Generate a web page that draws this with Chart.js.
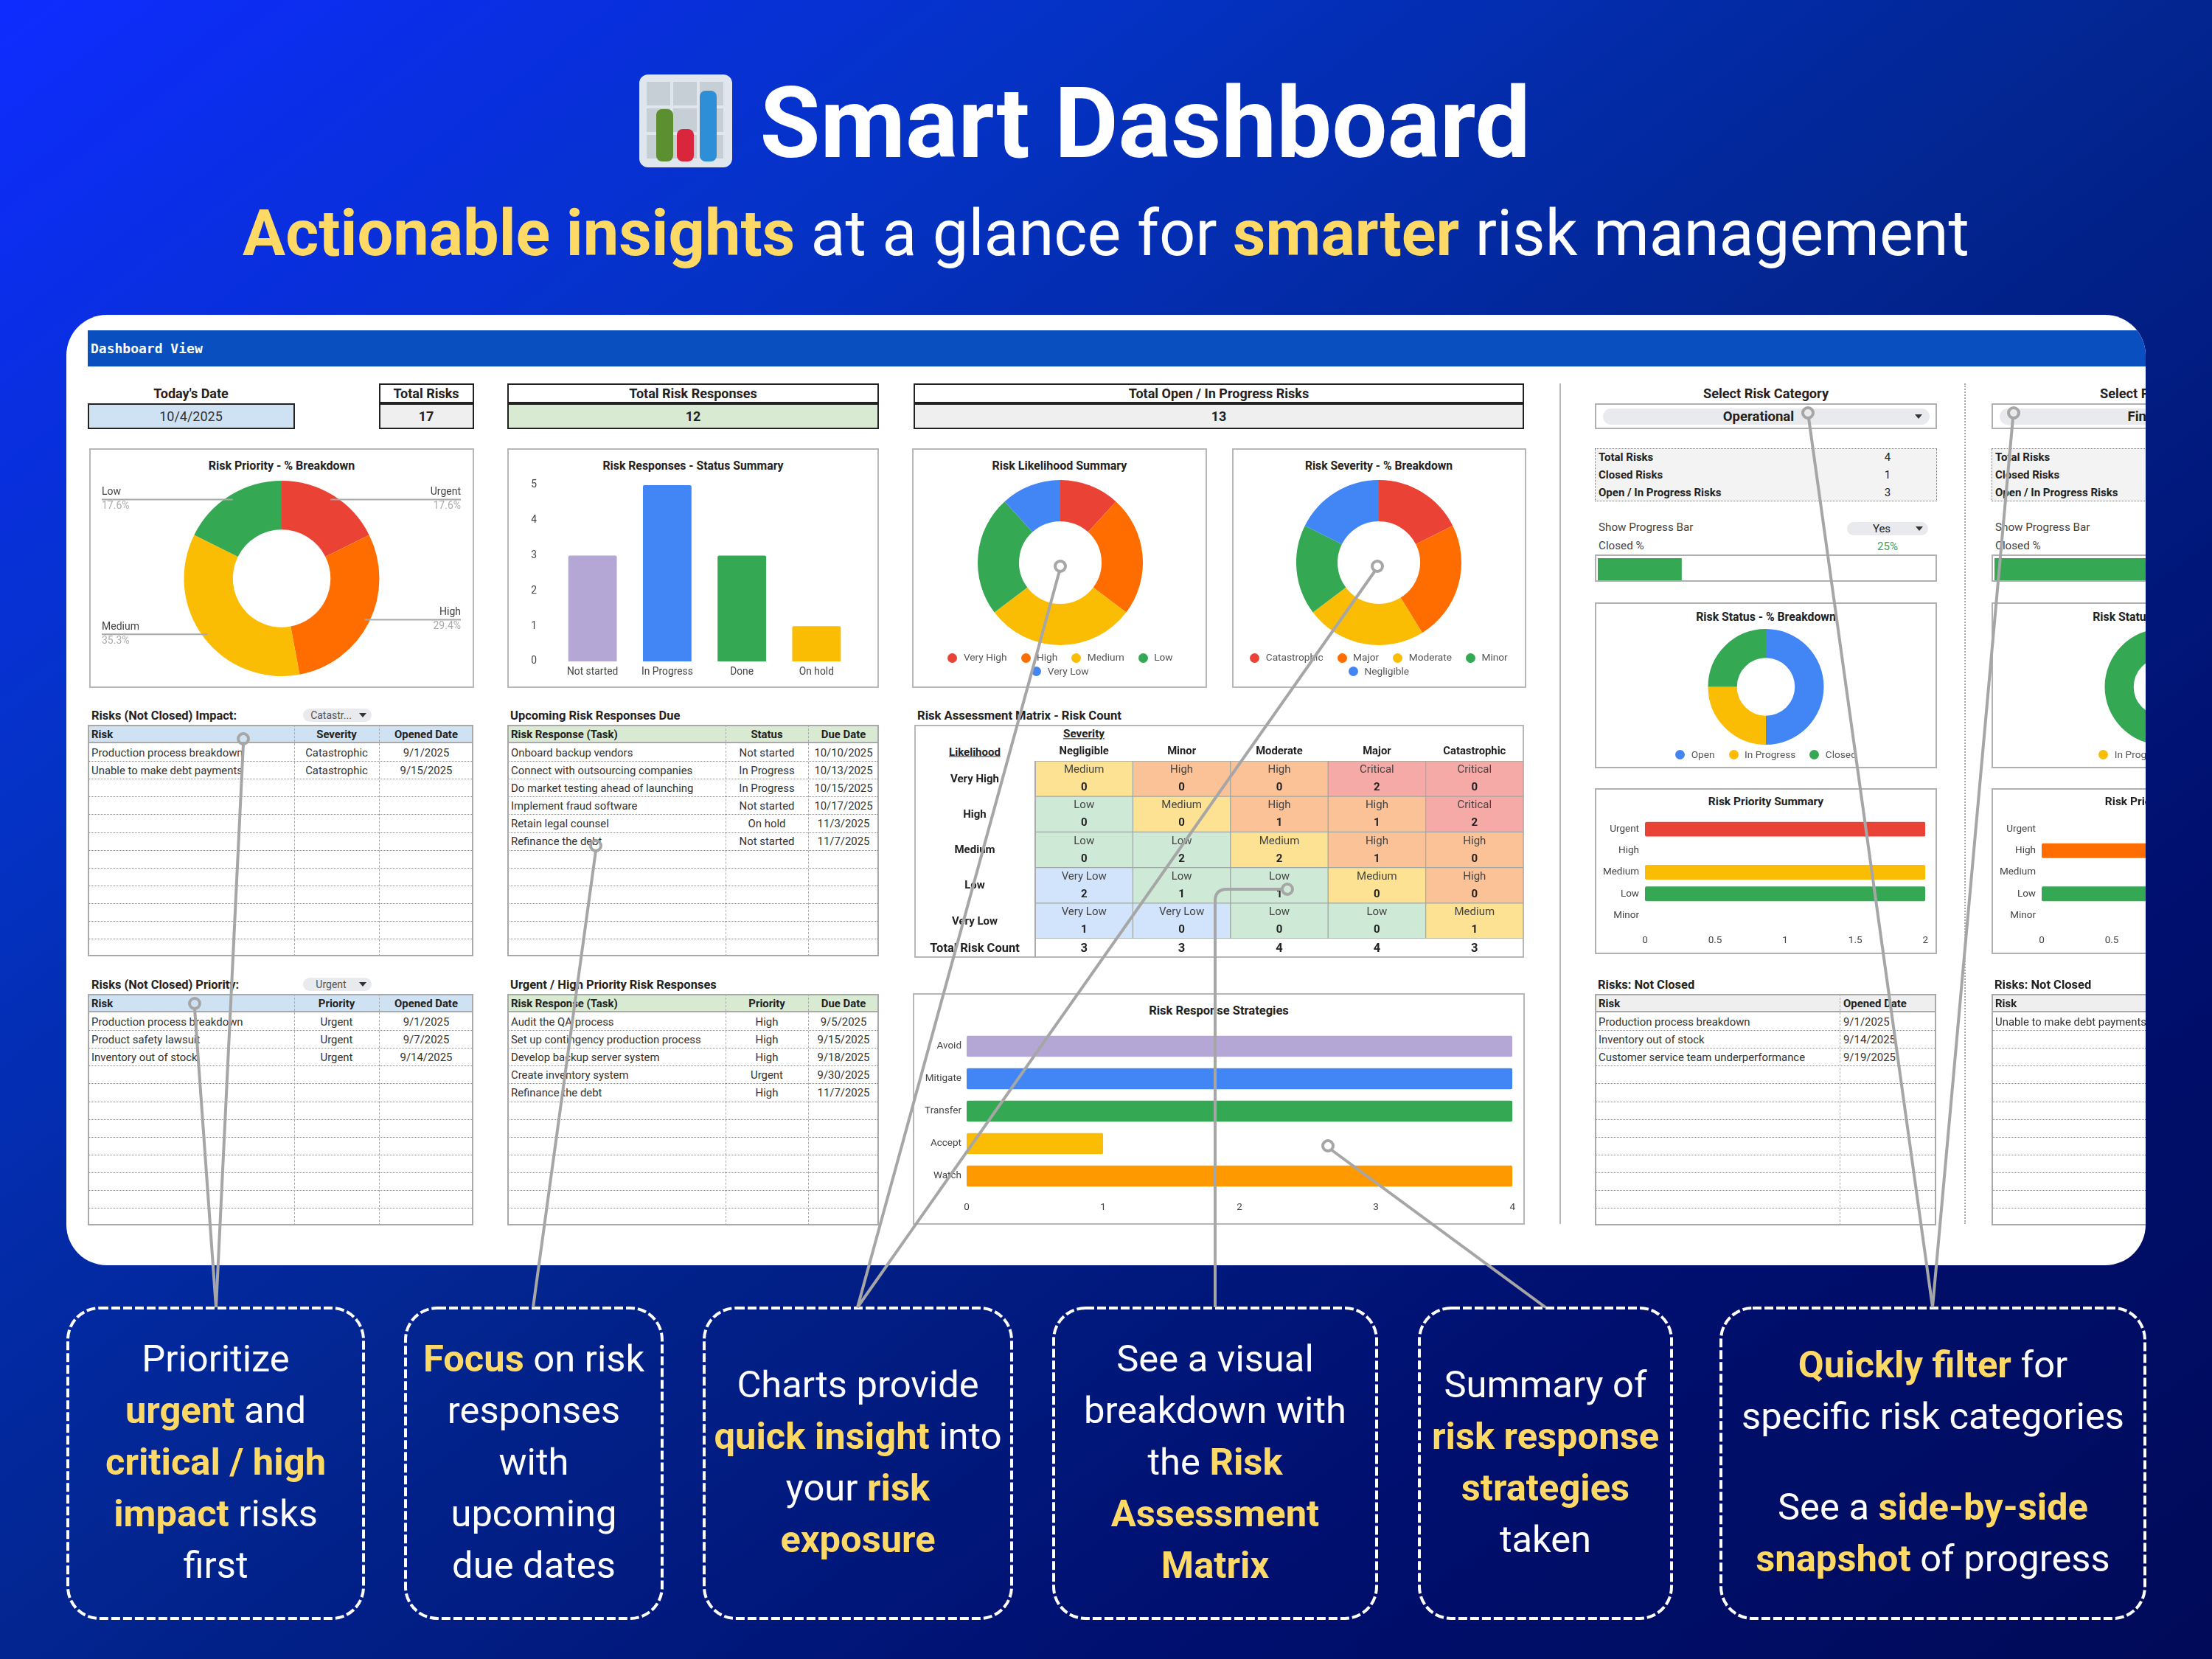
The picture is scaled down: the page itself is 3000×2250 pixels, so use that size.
<!DOCTYPE html>
<html>
<head>
<meta charset="utf-8">
<title>Smart Dashboard</title>
<script src="https://cdn.jsdelivr.net/npm/chart.js@4"></script>
<style>
  html, body { margin: 0; padding: 0; }
  body { width: 3000px; height: 2250px; overflow: hidden; position: relative; font-family: Roboto, sans-serif;
         background: linear-gradient(to bottom right, #0f2cff 0%, #0432c4 25%, #02258f 50%, #001070 75%, #000a58 100%); }
  #card { position: absolute; left: 90px; top: 427px; width: 2820px; height: 1289px; background: #fff; border-radius: 55px; overflow: hidden; }
  #card div, #card canvas { position: absolute; box-sizing: border-box; }
  #card .t { white-space: nowrap; color: #222; line-height: 1; }
  .head { position: absolute; white-space: nowrap; color: #fff; transform: translate(-50%, -50%); line-height: 1; }
  .head b, .box b { color: #ffd966; font-weight: 700; }
  .box { position: absolute; box-sizing: border-box; top: 1771px; height: 423px;
         display: flex; align-items: center; justify-content: center; text-align: center;
         color: #fff; font-size: 50.7px; line-height: 70px; white-space: nowrap; }
  .gap { display: block; height: 53px; }
  #leaders { position: absolute; left: 0; top: 0; pointer-events: none; }
</style>
</head>
<body>

<svg style="position:absolute;left:867px;top:101px" width="126" height="126" viewBox="0 0 126 126">
  <rect x="0" y="0" width="126" height="126" rx="12" fill="#dfe6ee"/>
  <g fill="#c6ced6">
    <rect x="10" y="10" width="32" height="32"/><rect x="46" y="10" width="32" height="32"/><rect x="82" y="10" width="32" height="32"/>
    <rect x="10" y="46" width="32" height="32"/><rect x="46" y="46" width="32" height="32"/><rect x="82" y="46" width="32" height="32"/>
    <rect x="10" y="82" width="32" height="32"/><rect x="46" y="82" width="32" height="32"/><rect x="82" y="82" width="32" height="32"/>
  </g>
  <rect x="23" y="47" width="23" height="71" rx="8" fill="#5b8f2f"/>
  <rect x="51" y="74" width="23" height="44" rx="8" fill="#d9263c"/>
  <rect x="82" y="22" width="23" height="96" rx="8" fill="#2f8fd6"/>
</svg>
<div class="head" style="left:1553px;top:168px;font-size:133.4px;font-weight:700">Smart Dashboard</div>
<div class="head" style="left:1500px;top:317px;font-size:86.5px;font-weight:400"><b>Actionable insights</b> at a glance for <b>smarter</b> risk management</div>

<div id="card"></div>

<div class="box" style="left:92px;width:401px"><span>Prioritize<br><b>urgent</b> and<br><b>critical / high</b><br><b>impact</b> risks<br>first</span></div>
<div class="box" style="left:550px;width:348px"><span><b>Focus</b> on risk<br>responses<br>with<br>upcoming<br>due dates</span></div>
<div class="box" style="left:955px;width:417px"><span>Charts provide<br><b>quick insight</b> into<br>your <b>risk</b><br><b>exposure</b></span></div>
<div class="box" style="left:1429px;width:438px"><span>See a visual<br>breakdown with<br>the <b>Risk</b><br><b>Assessment</b><br><b>Matrix</b></span></div>
<div class="box" style="left:1925px;width:342px"><span>Summary of<br><b>risk response</b><br><b>strategies</b><br>taken</span></div>
<div class="box" style="left:2334px;width:575px"><span><b>Quickly filter</b> for<br>specific risk categories<span class="gap"></span>See a <b>side-by-side</b><br><b>snapshot</b> of progress</span></div>

<svg id="leaders" width="3000" height="2250" fill="none" stroke="#a6a6a6" stroke-width="4">
  <g stroke="#fff" stroke-dasharray="12 4">
    <rect x="92" y="1774" width="401" height="421" rx="43"/>
    <rect x="550" y="1774" width="348" height="421" rx="43"/>
    <rect x="955" y="1774" width="417" height="421" rx="43"/>
    <rect x="1429" y="1774" width="438" height="421" rx="43"/>
    <rect x="1925" y="1774" width="342" height="421" rx="43"/>
    <rect x="2334" y="1774" width="575" height="421" rx="43"/>
  </g>
  <path d="M293 1773 L330 1009"/><circle cx="330" cy="1002" r="7"/>
  <path d="M293 1773 L264 1368"/><circle cx="264" cy="1361" r="7"/>
  <path d="M723 1773 L808 1154"/><circle cx="808" cy="1147" r="7"/>
  <path d="M1163 1773 L1437 774"/><circle cx="1438" cy="768" r="7"/>
  <path d="M1163 1773 L1865 774"/><circle cx="1868" cy="768" r="7"/>
  <path d="M1648 1773 L1648 1222 Q1648 1206 1664 1206 L1739 1206"/><circle cx="1746" cy="1206" r="7"/>
  <path d="M2096 1773 L1805 1559"/><circle cx="1801" cy="1554" r="7"/>
  <path d="M2621 1773 L2453 567"/><circle cx="2452" cy="560" r="7"/>
  <path d="M2621 1773 L2730 567"/><circle cx="2731" cy="560" r="7"/>
</svg>

<script>
// chart values
const priorityLabels = ['Urgent', 'High', 'Medium', 'Low'];
const priorityCounts = [3, 5, 6, 3];
const priorityShare = ['17.6%', '29.4%', '35.3%', '17.6%'];

const responseLabels = ['Not started', 'In Progress', 'Done', 'On hold'];
const responseCounts = [3, 5, 3, 1];

const likelihoodLabels = ['Very High', 'High', 'Medium', 'Low', 'Very Low'];
const likelihoodCounts = [2, 4, 5, 4, 2];

const severityLabels = ['Catastrophic', 'Major', 'Moderate', 'Minor', 'Negligible'];
const severityCounts = [3, 4, 4, 3, 3];

const matrixSeverity = ['Negligible', 'Minor', 'Moderate', 'Major', 'Catastrophic'];
const matrixLevels = [
  ['Medium', 'High', 'High', 'Critical', 'Critical'],
  ['Low', 'Medium', 'High', 'High', 'Critical'],
  ['Low', 'Low', 'Medium', 'High', 'High'],
  ['Very Low', 'Low', 'Low', 'Medium', 'High'],
  ['Very Low', 'Very Low', 'Low', 'Low', 'Medium']
];
const matrixCounts = [
  [0, 0, 0, 2, 0],
  [0, 0, 1, 1, 2],
  [0, 2, 2, 1, 0],
  [2, 1, 1, 0, 0],
  [1, 0, 0, 0, 1]
];
const matrixTotals = [3, 3, 4, 4, 3];

const strategyLabels = ['Avoid', 'Mitigate', 'Transfer', 'Accept', 'Watch'];
const strategyCounts = [4, 4, 4, 1, 4];

const categoryNames = ['Operational', 'Financial'];
const categoryTotals = [4, 4];
const categoryClosed = [1, 3];
const categoryOpen = [3, 1];
const categoryClosedPct = [25, 75];
const statusLabels = ['Open', 'In Progress', 'Closed'];
const categoryStatus = [[2, 1, 1], [0, 1, 3]];
const summaryLabels = ['Urgent', 'High', 'Medium', 'Low', 'Minor'];
const categoryPriority = [[2, 0, 2, 2, 0], [0, 2, 0, 2, 0]];
const summaryTicks = [0, 0.5, 1, 1.5, 2];

const impactRows = [['Production process breakdown', 'Catastrophic', '9/1/2025'], ['Unable to make debt payments', 'Catastrophic', '9/15/2025']];
const upcomingRows = [
  ['Onboard backup vendors', 'Not started', '10/10/2025'],
  ['Connect with outsourcing companies', 'In Progress', '10/13/2025'],
  ['Do market testing ahead of launching', 'In Progress', '10/15/2025'],
  ['Implement fraud software', 'Not started', '10/17/2025'],
  ['Retain legal counsel', 'On hold', '11/3/2025'],
  ['Refinance the debt', 'Not started', '11/7/2025']
];
const priorityRows = [['Production process breakdown', 'Urgent', '9/1/2025'], ['Product safety lawsuit', 'Urgent', '9/7/2025'], ['Inventory out of stock', 'Urgent', '9/14/2025']];
const urgentRows = [
  ['Audit the QA process', 'High', '9/5/2025'],
  ['Set up contingency production process', 'High', '9/15/2025'],
  ['Develop backup server system', 'High', '9/18/2025'],
  ['Create inventory system', 'Urgent', '9/30/2025'],
  ['Refinance the debt', 'High', '11/7/2025']
];
const notClosedRows = [
  [['Production process breakdown', '9/1/2025'], ['Inventory out of stock', '9/14/2025'], ['Customer service team underperformance', '9/19/2025']],
  [['Unable to make debt payments', '9/15/2025']]
];

const RED = '#ea4335', ORANGE = '#ff6d01', YELLOW = '#fbbc04', GREEN = '#34a853', BLUE = '#4285f4', PURPLE = '#b4a7d6', AMBER = '#ff9900';
const levelColours = { 'Very Low': '#d2e3fc', 'Low': '#ceead6', 'Medium': '#fde293', 'High': '#fcc297', 'Critical': '#f5aaa8' };

const card = document.getElementById('card');
const OX = 90, OY = 427;

function box(x, y, w, h, css) {
  const d = document.createElement('div');
  d.style.cssText = `left:${x - OX}px;top:${y - OY}px;width:${w}px;height:${h}px;${css || ''}`;
  card.appendChild(d);
  return d;
}

// text centred vertically on y; align l / c / r around x
function T(x, y, text, size, o) {
  o = o || {};
  const d = document.createElement('div');
  const tx = o.align === 'c' ? '-50%' : o.align === 'r' ? '-100%' : '0';
  d.className = 't';
  d.textContent = text;
  d.style.cssText = `left:${x - OX}px;top:${y - OY}px;transform:translate(${tx},-50%);font-size:${size}px;` +
    `font-weight:${o.bold ? 700 : 400};color:${o.color || '#222'};` +
    (o.mono ? 'font-family:"DejaVu Sans Mono";' : '') + (o.under ? 'text-decoration:underline;' : '');
  card.appendChild(d);
}

function arrow(x, y) {
  box(x - 5, y - 3, 10, 6, 'width:0;height:0;border-left:5px solid transparent;border-right:5px solid transparent;border-top:6px solid #333;');
}

function chart(x, y, w, h, config) {
  const c = document.createElement('canvas');
  c.width = w; c.height = h;
  c.style.cssText = `left:${x - OX}px;top:${y - OY}px;width:${w}px;height:${h}px;`;
  card.appendChild(c);
  config.options = Object.assign({ responsive: false, animation: false, devicePixelRatio: 1 }, config.options);
  config.options.plugins = Object.assign({ legend: { display: false }, tooltip: { enabled: false } }, config.options.plugins);
  return new Chart(c, config);
}

const PANEL = 'background:#fff;border:2px solid #b7b7b7;';

function legend(cx, y, labels, colours, rowBreak) {
  // google style legend, rows centred on cx
  const rows = rowBreak ? [labels.slice(0, rowBreak), labels.slice(rowBreak)] : [labels];
  let start = 0;
  rows.forEach((row, r) => {
    const ctx = document.createElement('canvas').getContext('2d');
    ctx.font = '13.7px Roboto';
    const widths = row.map(l => ctx.measureText(l).width + 13 + 8.5);
    const total = widths.reduce((a, b) => a + b, 0) + 19 * (row.length - 1);
    let px = cx - total / 2;
    row.forEach((l, i) => {
      box(px, y + r * 18.5 - 6.5, 13, 13, `border-radius:50%;background:${colours[start + i]};`);
      T(px + 21.5, y + r * 18.5, l, 13.7, { color: '#555' });
      px += widths[i] + 19;
    });
    start += row.length;
  });
}

// leader labels of the priority donut
const sideLabels = {
  id: 'sideLabels',
  afterDatasetsDraw(ch) {
    const ctx = ch.ctx;
    const arcs = ch.getDatasetMeta(0).data;
    arcs.forEach((a, i) => {
      const mid = (a.startAngle + a.endAngle) / 2;
      const r = a.outerRadius * 0.95;
      const px = a.x + Math.cos(mid) * r, py = a.y + Math.sin(mid) * r;
      const right = Math.cos(mid) > 0;
      const ex = right ? 504 : 17;
      ctx.save();
      ctx.strokeStyle = '#a8a8a8';
      ctx.lineWidth = 2;
      ctx.beginPath(); ctx.moveTo(px, py); ctx.lineTo(ex, py); ctx.stroke();
      ctx.textAlign = right ? 'right' : 'left';
      ctx.textBaseline = 'middle';
      ctx.font = '14px Roboto';
      ctx.fillStyle = '#444';
      ctx.fillText(ch.data.labels[i], ex, py - 10);
      ctx.fillStyle = '#aaa';
      ctx.fillText(priorityShare[i], ex, py + 9);
      ctx.restore();
    });
  }
};

// texts of the risk matrix cells, row labels and totals
const matrixText = {
  id: 'matrixText',
  afterDatasetsDraw(ch) {
    const ctx = ch.ctx;
    const area = ch.chartArea;
    ctx.save();
    ctx.textAlign = 'center';
    ctx.textBaseline = 'middle';
    ch.data.datasets.forEach((ds, di) => {
      const row = matrixLevels.length - 1 - di;
      const bars = ch.getDatasetMeta(di).data;
      bars.forEach((b, j) => {
        const top = Math.min(b.y, b.base);
        ctx.font = '15px Roboto';
        ctx.fillStyle = '#444';
        ctx.fillText(matrixLevels[row][j], b.x, top + 12.5);
        ctx.font = 'bold 15px Roboto';
        ctx.fillStyle = '#222';
        ctx.fillText(matrixCounts[row][j], b.x, top + 36.5);
      });
      ctx.font = 'bold 15px Roboto';
      ctx.fillStyle = '#222';
      const b0 = bars[0];
      ctx.fillText(likelihoodLabels[row], area.left / 2, (b0.y + b0.base) / 2 + 1);
    });
    ctx.font = 'bold 16.5px Roboto';
    ctx.fillText('Total Risk Count', area.left / 2, area.bottom + 14);
    matrixTotals.forEach((v, j) => ctx.fillText(v, ch.scales.x.getPixelForValue(j), area.bottom + 14));
    ctx.strokeStyle = '#aaa';
    ctx.lineWidth = 2;
    ctx.beginPath(); ctx.moveTo(area.left, area.top); ctx.lineTo(area.left, ch.height); ctx.stroke();
    ctx.restore();
  }
};

function donut(x, y, w, h, labels, values, colours, top, bottom, extra) {
  return chart(x, y, w, h, {
    type: 'doughnut',
    data: { labels: labels, datasets: [{ data: values, backgroundColor: colours, borderWidth: 0 }] },
    options: { cutout: '50%', layout: { padding: { top: top, bottom: bottom } } },
    plugins: extra || []
  });
}

function hbar(x, y, w, h, labels, values, colours, cfg) {
  return chart(x, y, w, h, {
    type: 'bar',
    data: { labels: labels, datasets: [{ data: values, backgroundColor: colours, borderRadius: 2, borderSkipped: false, barPercentage: 1, categoryPercentage: cfg.bar }] },
    options: {
      indexAxis: 'y',
      layout: { padding: { top: cfg.top, right: cfg.right } },
      scales: {
        x: { min: 0, max: cfg.max, grid: { display: false, drawTicks: false }, border: { display: false },
             afterFit(s) { s.height = cfg.axisH; },
             afterBuildTicks(s) { s.ticks = cfg.ticks.map(v => ({ value: v })); },
             ticks: { padding: cfg.xPad, color: '#444', font: { family: 'Roboto', size: 13.5 }, maxRotation: 0, autoSkip: false, callback: v => String(v) } },
        y: { grid: { display: false, drawTicks: false }, border: { display: false },
             afterFit(s) { s.width = cfg.axisW; },
             ticks: { padding: cfg.yPad, color: '#444', font: { family: 'Roboto', size: 13.5 }, autoSkip: false } }
      }
    }
  });
}

function dataTable(x, y, w, cols, heads, rows, headBg, leftCols) {
  const HEAD = 25, ROW = 24.1, N = 12;
  const total = HEAD + ROW * N;
  box(x, y, w, total, 'background:#fff;');
  box(x, y, w, HEAD, `background:${headBg};`);
  for (let i = 1; i < N; i++) box(x, y + HEAD + ROW * i, w, 0, 'border-top:1.5px dotted #8a8a8a;');
  let cx = x;
  const edges = [x];
  cols.forEach(c => { cx += c; edges.push(cx); });
  for (let i = 1; i < cols.length; i++) box(edges[i], y, 0, total, 'border-left:1.5px dashed #aaa;');
  box(x, y, w, HEAD, 'border-bottom:2px solid #a9a9a9;');
  box(x, y, w, total, 'border:2px solid #a9a9a9;');
  const place = (text, c, cy, bold) => {
    const col = bold ? '#222' : '#333';
    if (c === 0 || leftCols) T(edges[c] + 5, cy, text, 14.9, { bold: bold, color: col });
    else T((edges[c] + edges[c + 1]) / 2, cy, text, 14.9, { bold: bold, align: 'c', color: col });
  };
  heads.forEach((h, c) => place(h, c, y + HEAD / 2 + 0.5, true));
  rows.forEach((r, i) => r.forEach((t, c) => place(t, c, y + HEAD + ROW * i + ROW / 2 + 0.5, false)));
}

function pill(x, y, w, h) { box(x, y, w, h, `background:#e8eaed;border-radius:${h / 2}px;`); }

// ---------------------------------------------------------------- header band and top figures
box(119, 448, 2800, 49, 'background:#0a4fc0;');
T(123, 473, 'Dashboard View', 18, { bold: true, mono: true, color: '#fff' });

T(259, 534, "Today's Date", 18, { bold: true, align: 'c' });
box(119, 547, 281, 35, 'background:#cfe2f3;border:2px solid #222;');
T(259, 565, '10/4/2025', 18, { align: 'c', color: '#333' });

box(514, 520, 129, 27, 'border:2px solid #222;');
T(578, 534, 'Total Risks', 18, { bold: true, align: 'c' });
box(514, 547, 129, 35, 'background:#efefef;border:2px solid #222;');
T(578, 565, '17', 18, { bold: true, align: 'c' });

box(688, 520, 504, 27, 'border:2px solid #222;');
T(940, 534, 'Total Risk Responses', 18, { bold: true, align: 'c' });
box(688, 547, 504, 35, 'background:#d9ead3;border:2px solid #222;');
T(940, 565, '12', 18, { bold: true, align: 'c' });

box(1239, 520, 828, 27, 'border:2px solid #222;');
T(1653, 534, 'Total Open / In Progress Risks', 18, { bold: true, align: 'c' });
box(1239, 547, 828, 35, 'background:#efefef;border:2px solid #222;');
T(1653, 565, '13', 18, { bold: true, align: 'c' });

// ---------------------------------------------------------------- first row of charts
box(121, 608, 522, 325, PANEL);
T(382, 632, 'Risk Priority - % Breakdown', 16, { bold: true, align: 'c' });
donut(121, 608, 522, 325, priorityLabels, priorityCounts, [RED, ORANGE, YELLOW, GREEN], 44, 16, [sideLabels]);

box(688, 608, 504, 325, PANEL);
T(940, 632, 'Risk Responses - Status Summary', 15.8, { bold: true, align: 'c' });
chart(688, 608, 504, 325, {
  type: 'bar',
  data: { labels: responseLabels, datasets: [{ data: responseCounts, backgroundColor: [PURPLE, BLUE, GREEN, YELLOW], borderRadius: 2, barPercentage: 1, categoryPercentage: 0.65 }] },
  options: {
    layout: { padding: { top: 50, right: 34 } },
    scales: {
      x: { grid: { display: false, drawTicks: false }, border: { display: false }, afterFit(s) { s.height = 36; },
           ticks: { padding: 6, color: '#444', font: { family: 'Roboto', size: 13.8 }, maxRotation: 0, autoSkip: false } },
      y: { min: 0, max: 5, grid: { display: false, drawTicks: false }, border: { display: false }, afterFit(s) { s.width = 65; },
           ticks: { stepSize: 1, padding: 25, color: '#444', font: { family: 'Roboto', size: 13.8 } } }
    }
  }
});

box(1237, 608, 400, 325, PANEL);
T(1437, 632, 'Risk Likelihood Summary', 16, { bold: true, align: 'c' });
donut(1238, 608, 400, 325, likelihoodLabels, likelihoodCounts, [RED, ORANGE, YELLOW, GREEN, BLUE], 43, 58);
legend(1438, 892, likelihoodLabels, [RED, ORANGE, YELLOW, GREEN, BLUE], 4);

box(1671, 608, 399, 325, PANEL);
T(1870, 632, 'Risk Severity - % Breakdown', 15.7, { bold: true, align: 'c' });
donut(1670, 608, 400, 325, severityLabels, severityCounts, [RED, ORANGE, YELLOW, GREEN, BLUE], 43, 58);
legend(1870, 892, severityLabels, [RED, ORANGE, YELLOW, GREEN, BLUE], 4);

// ---------------------------------------------------------------- tables
T(124, 971, 'Risks (Not Closed) Impact:', 16.4, { bold: true });
pill(411, 961, 93, 18);
T(449, 970, 'Catastr...', 14, { align: 'c', color: '#555' });
arrow(492, 970);
dataTable(119, 983, 523, [280, 115, 128], ['Risk', 'Severity', 'Opened Date'], impactRows, '#cfe2f3');

T(692, 971, 'Upcoming Risk Responses Due', 16.5, { bold: true });
dataTable(688, 983, 504, [296, 112, 96], ['Risk Response (Task)', 'Status', 'Due Date'], upcomingRows, '#d9ead3');

T(124, 1336, 'Risks (Not Closed) Priority:', 16.4, { bold: true });
pill(411, 1326, 93, 18);
T(449, 1335, 'Urgent', 14, { align: 'c', color: '#555' });
arrow(492, 1335);
dataTable(119, 1348, 523, [280, 115, 128], ['Risk', 'Priority', 'Opened Date'], priorityRows, '#cfe2f3');

T(692, 1336, 'Urgent / High Priority Risk Responses', 16.5, { bold: true });
dataTable(688, 1348, 504, [296, 112, 96], ['Risk Response (Task)', 'Priority', 'Due Date'], urgentRows, '#d9ead3');

// ---------------------------------------------------------------- risk matrix
T(1244, 971, 'Risk Assessment Matrix - Risk Count', 16.6, { bold: true });
box(1240, 983, 827, 316, PANEL);
T(1470, 996, 'Severity', 15.3, { bold: true, align: 'c', under: true });
T(1322, 1020, 'Likelihood', 15, { bold: true, align: 'c', under: true });
chart(1240, 983, 827, 316, {
  type: 'bar',
  // stacked rows of equal height, bottom row first
  data: {
    labels: matrixSeverity,
    datasets: matrixLevels.map(r => r).reverse().map(r => ({
      data: r.map(() => 1),
      backgroundColor: r.map(l => levelColours[l]),
      borderColor: '#9fa8a3', borderWidth: 1, borderSkipped: false,
      barPercentage: 1, categoryPercentage: 1
    }))
  },
  options: {
    layout: { padding: { left: 164, right: 1, bottom: 26 } },
    scales: {
      x: { stacked: true, position: 'top', grid: { display: false, drawTicks: false }, border: { display: false }, afterFit(s) { s.height = 49; },
           ticks: { padding: 4, color: '#222', font: { family: 'Roboto', size: 14.8, weight: 'bold' }, maxRotation: 0, autoSkip: false } },
      y: { stacked: true, min: 0, max: 5, display: false }
    }
  },
  plugins: [matrixText]
});

// ---------------------------------------------------------------- response strategies
box(1238, 1347, 830, 314, PANEL);
T(1653, 1371, 'Risk Response Strategies', 16.5, { bold: true, align: 'c' });
hbar(1238, 1347, 830, 314, strategyLabels, strategyCounts, [PURPLE, BLUE, GREEN, YELLOW, AMBER],
  { bar: 0.65, top: 50, right: 15, max: 4, ticks: [0, 1, 2, 3, 4], axisH: 44, axisW: 73, xPad: 13, yPad: 7 });

// ---------------------------------------------------------------- dividers
box(2115, 520, 2, 1140, 'background:#b7b7b7;');
box(2664, 520, 0, 1140, 'border-left:2px dotted #aaa;');

// ---------------------------------------------------------------- category columns
categoryNames.forEach((name, i) => {
  const dx = i * 538;
  T(2395 + dx, 534, 'Select Risk Category', 18.2, { bold: true, align: 'c' });
  box(2163 + dx, 547, 464, 35, 'border:2px solid #b0b0b0;');
  pill(2174 + dx, 554, 443, 22);
  T(2385 + dx, 565, name, 18.5, { bold: true, align: 'c' });
  arrow(2602 + dx, 565);

  box(2163 + dx, 608, 464, 72, 'background:#f3f3f3;border:1.5px dotted #777;');
  [['Total Risks', categoryTotals[i]], ['Closed Risks', categoryClosed[i]], ['Open / In Progress Risks', categoryOpen[i]]].forEach((r, k) => {
    T(2168 + dx, 620 + k * 24, r[0], 15, { bold: true });
    T(2560 + dx, 620 + k * 24, r[1], 15, { align: 'c' });
  });

  T(2168 + dx, 716, 'Show Progress Bar', 15.2, { color: '#444' });
  pill(2505 + dx, 708, 110, 18);
  T(2552 + dx, 717, 'Yes', 15, { align: 'c' });
  arrow(2603 + dx, 717);
  T(2168 + dx, 741, 'Closed %', 15.2, { color: '#444' });
  T(2560 + dx, 741, categoryClosedPct[i] + '%', 15, { align: 'c', color: '#34a853' });

  box(2163 + dx, 752, 464, 37, 'border:2px solid #b0b0b0;');
  chart(2167 + dx, 757, 454, 30, {
    type: 'bar',
    data: { labels: ['Closed %'], datasets: [{ data: [categoryClosedPct[i]], backgroundColor: GREEN, barPercentage: 1, categoryPercentage: 1 }] },
    options: { indexAxis: 'y', scales: { x: { min: 0, max: 100, display: false }, y: { display: false } } }
  });

  box(2163 + dx, 817, 464, 225, 'background:#fff;border:2px solid #b0b0b0;');
  T(2395 + dx, 837, 'Risk Status - % Breakdown', 15.8, { bold: true, align: 'c' });
  donut(2163 + dx, 817, 464, 225, statusLabels, categoryStatus[i], [BLUE, YELLOW, GREEN], 36, 32);
  const shown = statusLabels.filter((l, k) => categoryStatus[i][k] > 0);
  const shownCol = [BLUE, YELLOW, GREEN].filter((c, k) => categoryStatus[i][k] > 0);
  legend(2395 + dx, 1023.5, shown, shownCol);

  box(2163 + dx, 1069, 464, 225, 'background:#fff;border:2px solid #b0b0b0;');
  T(2395 + dx, 1088, 'Risk Priority Summary', 15.5, { bold: true, align: 'c' });
  hbar(2163 + dx, 1069, 464, 225, summaryLabels, categoryPriority[i], [RED, ORANGE, YELLOW, GREEN, BLUE],
    { bar: 0.68, top: 41, right: 12, max: 2, ticks: summaryTicks, axisH: 38, axisW: 68, xPad: 12, yPad: 8 });

  T(2167 + dx, 1336, 'Risks: Not Closed', 16.5, { bold: true });
  dataTable(2163 + dx, 1348, 463, [332, 131], ['Risk', 'Opened Date'], notClosedRows[i], '#efefef', true);
});
</script>
</body>
</html>
